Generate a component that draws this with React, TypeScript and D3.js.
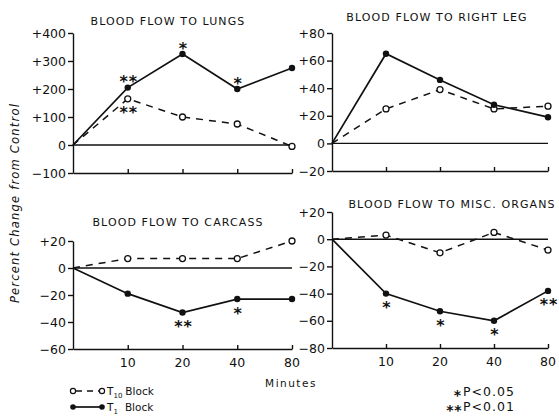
import React, { useRef, useEffect } from "react";
import * as d3 from "d3";

// minutes after block (0 = control)
const categories = ["0", "10", "20", "40", "80"];
const tickLabels = ["10", "20", "40", "80"];

// percent change from control
const lungsT10 = [0, 165, 100, 75, -5];
const lungsT1 = [0, 205, 325, 200, 275];
const legT10 = [0, 25, 39, 25, 27];
const legT1 = [0, 65, 46, 28, 19];
const carcassT10 = [0, 7, 7, 7, 20];
const carcassT1 = [0, -19, -33, -23, -23];
const miscT10 = [0, 3, -10, 5, -8];
const miscT1 = [0, -40, -53, -60, -38];

const lungsTicks = [-100, 0, 100, 200, 300, 400];
const legTicks = [-20, 0, 20, 40, 60, 80];
const carcassTicks = [-60, -40, -20, 0, 20];
const miscTicks = [-80, -60, -40, -20, 0, 20];

// significance marks: which point and which side of it
const lungsSig = [
  { cat: "10", series: "T1", mark: "**", side: "above" },
  { cat: "10", series: "T10", mark: "**", side: "below" },
  { cat: "20", series: "T1", mark: "*", side: "above" },
  { cat: "40", series: "T1", mark: "*", side: "above" },
];
const legSig: any[] = [];
const carcassSig = [
  { cat: "20", series: "T1", mark: "**", side: "below" },
  { cat: "40", series: "T1", mark: "*", side: "below" },
];
const miscSig = [
  { cat: "10", series: "T1", mark: "*", side: "below" },
  { cat: "20", series: "T1", mark: "*", side: "below" },
  { cat: "40", series: "T1", mark: "*", side: "below" },
  { cat: "80", series: "T1", mark: "**", side: "below" },
];

const FONT = "'DejaVu Sans', sans-serif";

const panels = [
  {
    title: "BLOOD FLOW TO LUNGS", titleX: 168, titleY: 25,
    t10: lungsT10, t1: lungsT1, ticks: lungsTicks, sig: lungsSig,
    domain: [-100, 400], xRange: [73, 292], yRange: [173, 33], xLabels: false,
  },
  {
    title: "BLOOD FLOW TO RIGHT LEG", titleX: 437, titleY: 21,
    t10: legT10, t1: legT1, ticks: legTicks, sig: legSig,
    domain: [-20, 80], xRange: [332, 548], yRange: [171, 33], xLabels: false,
  },
  {
    title: "BLOOD FLOW TO CARCASS", titleX: 178, titleY: 226,
    t10: carcassT10, t1: carcassT1, ticks: carcassTicks, sig: carcassSig,
    domain: [-60, 20], xRange: [73, 292], yRange: [349, 241], xLabels: true,
  },
  {
    title: "BLOOD FLOW TO MISC. ORGANS", titleX: 452, titleY: 208,
    t10: miscT10, t1: miscT1, ticks: miscTicks, sig: miscSig,
    domain: [-80, 20], xRange: [332, 548], yRange: [348, 212], xLabels: true,
  },
];

const fmt = (v: number) => (v > 0 ? "+" + v : v < 0 ? "\u2212" + Math.abs(v) : "0");

const App = () => {
  const svgRef = useRef<SVGSVGElement>(null);

  useEffect(() => {
    const svg = d3.select(svgRef.current);
    svg.selectAll("*").remove();

    panels.forEach((p) => {
      const x = d3.scalePoint<string>().domain(categories).range(p.xRange as [number, number]);
      const y = d3.scaleLinear().domain(p.domain).range(p.yRange);
      const g = svg.append("g");

      // title
      g.append("text")
        .attr("x", p.titleX)
        .attr("y", p.titleY)
        .attr("text-anchor", "middle")
        .style("font-family", FONT)
        .style("font-size", "11px")
        .style("letter-spacing", "1.1px")
        .attr("fill", "#111")
        .text(p.title);

      // left axis
      const left = g.append("g")
        .attr("transform", `translate(${x("0")},0)`)
        .call(d3.axisLeft(y).tickValues(p.ticks).tickFormat(fmt as any).tickSize(5).tickSizeOuter(0).tickPadding(2));
      left.selectAll("text").style("font-family", FONT).style("font-size", "12.5px").attr("fill", "#111");
      left.selectAll("line, path").attr("stroke", "#111").attr("stroke-width", 1.4);

      // bottom axis line with small upward ticks
      const bottom = g.append("g")
        .attr("transform", `translate(0,${y(p.domain[0])})`)
        .call(d3.axisTop(x).tickValues(tickLabels).tickSize(4).tickSizeOuter(0).tickFormat(() => ""));
      bottom.selectAll("line, path").attr("stroke", "#111").attr("stroke-width", 1.4);

      // zero line
      g.append("line")
        .attr("x1", x("0")!).attr("x2", x("80")!)
        .attr("y1", y(0)).attr("y2", y(0))
        .attr("stroke", "#111").attr("stroke-width", 1.4);

      // x tick labels
      if (p.xLabels) {
        g.selectAll(".xl").data(tickLabels).enter().append("text")
          .attr("x", (d) => x(d)!)
          .attr("y", y(p.domain[0]) + 18)
          .attr("text-anchor", "middle")
          .style("font-family", FONT)
          .style("font-size", "12.5px")
          .attr("fill", "#111")
          .text((d) => d);
      }

      const line = d3.line<number>().x((d, i) => x(categories[i])!).y((d) => y(d));

      g.append("path").attr("d", line(p.t10)).attr("fill", "none")
        .attr("stroke", "#111").attr("stroke-width", 1.5).attr("stroke-dasharray", "7,6");
      g.append("path").attr("d", line(p.t1)).attr("fill", "none")
        .attr("stroke", "#111").attr("stroke-width", 1.7);

      const pts = (vals: number[]) => vals.map((v, i) => ({ c: categories[i], v })).slice(1);

      g.selectAll(".o").data(pts(p.t10)).enter().append("circle")
        .attr("cx", (d) => x(d.c)!).attr("cy", (d) => y(d.v)).attr("r", 3)
        .attr("fill", "white").attr("stroke", "#111").attr("stroke-width", 1.3);
      g.selectAll(".f").data(pts(p.t1)).enter().append("circle")
        .attr("cx", (d) => x(d.c)!).attr("cy", (d) => y(d.v)).attr("r", 3.2)
        .attr("fill", "#111");

      // significance stars
      p.sig.forEach((s: any) => {
        const vals = s.series === "T1" ? p.t1 : p.t10;
        const v = vals[categories.indexOf(s.cat)];
        const cy = y(v) + (s.side === "above" ? -10 : 10);
        g.append("text")
          .attr("x", x(s.cat)! + 1)
          .attr("y", cy + 9.5)
          .attr("text-anchor", "middle")
          .style("font-family", FONT)
          .style("font-size", "16px")
          .style("font-weight", "bold")
          .style("letter-spacing", "1px")
          .attr("fill", "#111")
          .text(s.mark);
      });
    });

    // y axis title
    svg.append("text")
      .attr("transform", "translate(19,203) rotate(-90)")
      .attr("text-anchor", "middle")
      .style("font-family", FONT)
      .style("font-size", "11.5px")
      .style("font-style", "italic")
      .style("letter-spacing", "1.2px")
      .attr("fill", "#111")
      .text("Percent Change from Control");

    // x axis title
    svg.append("text")
      .attr("x", 291).attr("y", 387)
      .attr("text-anchor", "middle")
      .style("font-family", FONT)
      .style("font-size", "10.5px")
      .style("letter-spacing", "1.5px")
      .attr("fill", "#111")
      .text("Minutes");

    // legend: series
    const leg = svg.append("g").style("font-family", FONT).attr("fill", "#111");
    leg.append("line").attr("x1", 73).attr("x2", 102).attr("y1", 391).attr("y2", 391)
      .attr("stroke", "#111").attr("stroke-width", 1.5).attr("stroke-dasharray", "6,5").attr("stroke-dashoffset", -3);
    [73, 102].forEach((cx) => leg.append("circle").attr("cx", cx).attr("cy", 391).attr("r", 2.6)
      .attr("fill", "white").attr("stroke", "#111").attr("stroke-width", 1.2));
    leg.append("line").attr("x1", 73).attr("x2", 102).attr("y1", 407).attr("y2", 407)
      .attr("stroke", "#111").attr("stroke-width", 1.7);
    [73, 102].forEach((cx) => leg.append("circle").attr("cx", cx).attr("cy", 407).attr("r", 2.8).attr("fill", "#111"));

    const t10 = leg.append("text").attr("x", 107).attr("y", 395).style("font-size", "10.5px");
    t10.append("tspan").text("T");
    t10.append("tspan").attr("dy", 3).style("font-size", "7px").text("10");
    t10.append("tspan").attr("dy", -3).attr("dx", 3).text("Block");
    const t1 = leg.append("text").attr("x", 107).attr("y", 411).style("font-size", "10.5px");
    t1.append("tspan").text("T");
    t1.append("tspan").attr("dy", 3).style("font-size", "7px").text("1");
    t1.append("tspan").attr("dy", -3).attr("dx", 7).text("Block");

    // legend: significance
    leg.append("text").attr("x", 461).attr("y", 400).attr("text-anchor", "end")
      .style("font-size", "14px").style("font-weight", "bold").text("*");
    leg.append("text").attr("x", 463).attr("y", 396).style("font-size", "12.5px").style("letter-spacing", "1px").text("P<0.05");
    leg.append("text").attr("x", 462).attr("y", 415).attr("text-anchor", "end")
      .style("font-size", "14px").style("font-weight", "bold").style("letter-spacing", "0.5px").text("**");
    leg.append("text").attr("x", 463).attr("y", 411).style("font-size", "12.5px").style("letter-spacing", "1px").text("P<0.01");
  }, []);

  return (
    <svg
      ref={svgRef}
      width={559}
      height={419}
      style={{ position: "absolute", left: 0, top: 0, background: "white" }}
    />
  );
};

export default App;
